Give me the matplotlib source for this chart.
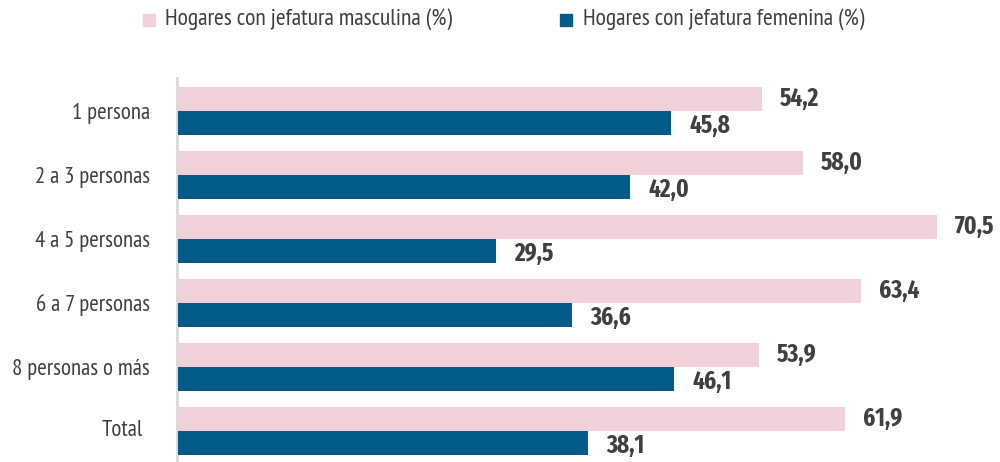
import matplotlib
matplotlib.use("Agg")
import matplotlib.pyplot as plt
from matplotlib.patches import Rectangle
import numpy as np

categories = ["1 persona", "2 a 3 personas", "4 a 5 personas", "6 a 7 personas",
              "8 personas o más", "Total"]
masculina = [54.2, 58.0, 70.5, 63.4, 53.9, 61.9]
femenina = [45.8, 42.0, 29.5, 36.6, 46.1, 38.1]
series_names = ["Hogares con jefatura masculina (%)", "Hogares con jefatura femenina (%)"]

PINK = "#f0d1d8"
BLUE = "#025b88"
TEXT = "#404040"
REG = ["PT Sans Narrow", "Fira Sans Extra Condensed", "DejaVu Sans"]
BOLD = ["Fira Sans Extra Condensed", "PT Sans Narrow", "DejaVu Sans"]
plt.rcParams["font.family"] = REG

W, H = 1000, 462
fig = plt.figure(figsize=(W / 100, H / 100), dpi=100)
ax = fig.add_axes([178 / W, 0, 822 / W, (462 - 78) / H])

y = np.arange(len(categories))
bh = 24 / 64
ax.barh(y - bh / 2, masculina, height=bh, color=PINK, zorder=3)
ax.barh(y + bh / 2, femenina, height=bh, color=BLUE, zorder=3)

ax.set_xlim(0, 822 / 10.77)
ax.set_ylim(len(categories) - 1 + 31 / 64, -33 / 64)

gap = 18 / 10.77
for yi, m, f in zip(y, masculina, femenina):
    ax.text(m + gap, yi - bh / 2, f"{m:.1f}".replace(".", ","), va="center", ha="left",
            fontsize=18, fontweight="bold", family=BOLD, color=TEXT)
    ax.text(f + gap, yi + bh / 2 + 0.04, f"{f:.1f}".replace(".", ","), va="center", ha="left",
            fontsize=18, fontweight="bold", family=BOLD, color=TEXT)

ax.tick_params(axis="y", length=0, pad=19, labelsize=16.5, labelcolor=TEXT)
ax.set_yticks(y)
ax.set_yticklabels(categories[:-1] + [""])
# "Total" sits slightly further left than the other labels in the reference
ax.annotate(categories[-1], xy=(0, y[-1]), xycoords=("axes fraction", "data"),
            xytext=(-25.5, 0), textcoords="offset points", ha="right", va="center",
            fontsize=16.5, color=TEXT)
ax.set_xticks([])
for s in ["top", "right", "bottom"]:
    ax.spines[s].set_visible(False)
ax.spines["left"].set_color("#d9d9d9")
ax.spines["left"].set_linewidth(2)
ax.spines["left"].set_position(("outward", 1))

# legend
def legend_item(x_sq, x_txt, color, label):
    fig.patches.append(Rectangle((x_sq / W, 1 - 26 / H), 12 / W, 12 / H,
                                 transform=fig.transFigure, color=color, figure=fig))
    fig.text(x_txt / W, 1 - 19 / H, label, ha="left", va="center", fontsize=17, color=TEXT)

legend_item(143, 165, PINK, series_names[0])
legend_item(560, 583, BLUE, series_names[1])

fig.savefig("out.png", dpi=100)
